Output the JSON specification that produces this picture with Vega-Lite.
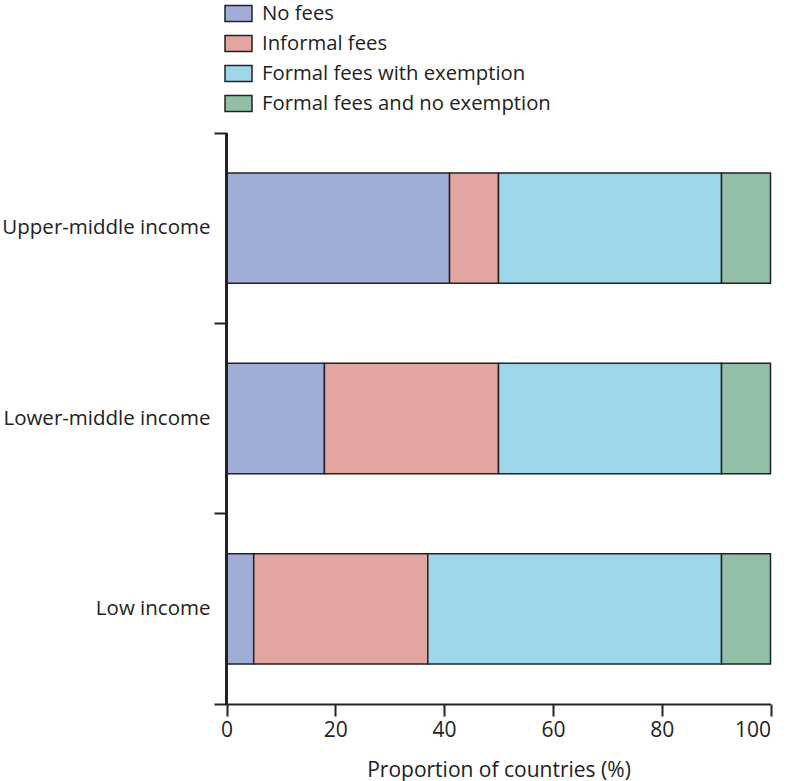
{
  "$schema": "https://vega.github.io/schema/vega-lite/v6.json",
  "autosize": "none",
  "width": 556.5,
  "height": 571,
  "padding": {"left": 214, "top": 133, "right": 17.5, "bottom": 77},
  "background": "white",
  "config": {
    "view": {"stroke": null},
    "font": "Open Sans",
    "axis": {"grid": false, "domainColor": "#222", "tickColor": "#222", "labelColor": "#222", "titleColor": "#222", "labelFont": "Open Sans", "titleFont": "Open Sans"}
  },
  "data": {
    "values": [
      {"income": "Upper-middle income", "fee": "No fees", "pct": 41},
      {"income": "Upper-middle income", "fee": "Informal fees", "pct": 9},
      {"income": "Upper-middle income", "fee": "Formal fees with exemption", "pct": 41},
      {"income": "Upper-middle income", "fee": "Formal fees and no exemption", "pct": 9},
      {"income": "Lower-middle income", "fee": "No fees", "pct": 18},
      {"income": "Lower-middle income", "fee": "Informal fees", "pct": 32},
      {"income": "Lower-middle income", "fee": "Formal fees with exemption", "pct": 41},
      {"income": "Lower-middle income", "fee": "Formal fees and no exemption", "pct": 9},
      {"income": "Low income", "fee": "No fees", "pct": 5},
      {"income": "Low income", "fee": "Informal fees", "pct": 32},
      {"income": "Low income", "fee": "Formal fees with exemption", "pct": 54},
      {"income": "Low income", "fee": "Formal fees and no exemption", "pct": 9}
    ]
  },
  "layer": [
    {
      "mark": {"type": "bar", "height": {"band": 0.58}, "stroke": "#222", "strokeWidth": 1.5},
      "encoding": {
        "y": {
          "field": "income", "type": "nominal",
          "sort": ["Upper-middle income", "Lower-middle income", "Low income"],
          "scale": {"paddingInner": 0, "paddingOuter": 0},
          "axis": {"title": null, "domain": false, "bandPosition": 0, "tickSize": -12.5, "tickWidth": 2, "labelPadding": 16.5, "labelFontSize": 20.5, "labelLimit": 400}
        },
        "x": {
          "field": "pct", "type": "quantitative", "stack": "zero",
          "scale": {"domain": [-2.3, 100], "nice": false, "zero": false},
          "axis": {"title": "Proportion of countries (%)", "values": [0, 20, 40, 60, 80, 100], "domainWidth": 2, "tickSize": 12, "tickWidth": 2, "labelPadding": 3, "labelFontSize": 21, "titleFontSize": 21, "titleFontWeight": "normal", "titlePadding": 19, "titleX": 284.5}
        },
        "order": {"field": "fee", "sort": "descending"},
        "color": {
          "field": "fee", "type": "nominal",
          "scale": {"domain": ["No fees", "Informal fees", "Formal fees with exemption", "Formal fees and no exemption"], "range": ["#A0ADD6", "#E3A5A0", "#9DD6E8", "#92BFA7"]},
          "legend": {"title": null, "orient": "none", "legendX": 10, "legendY": -134, "symbolType": "M-1,-0.6H1V0.6H-1Z", "symbolSize": 729, "symbolStrokeColor": "#222", "symbolStrokeWidth": 1.5, "symbolOpacity": 1, "labelFontSize": 20.3, "labelColor": "#222", "labelOffset": 9, "labelLimit": 500, "rowPadding": 4}
        }
      }
    },
    {
      "mark": {"type": "rule", "color": "#222", "strokeWidth": 2},
      "encoding": {"x": {"datum": 0}}
    }
  ]
}
